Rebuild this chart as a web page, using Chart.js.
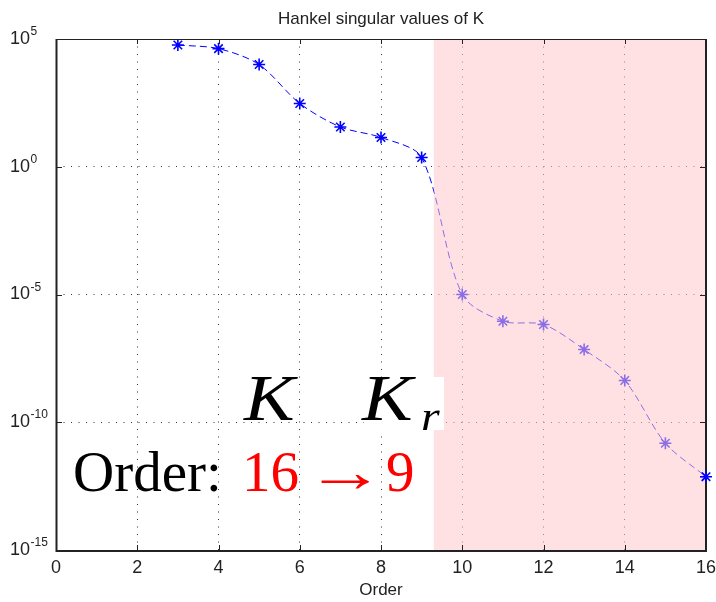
<!DOCTYPE html>
<html>
<head>
<meta charset="utf-8">
<title>Hankel singular values of K</title>
<script src="https://cdn.jsdelivr.net/npm/chart.js@4.4.1/dist/chart.umd.min.js"></script>
<style>
  html, body { margin: 0; padding: 0; background: #fff; }
  #wrap { width: 716px; height: 602px; }
</style>
</head>
<body>
<div id="wrap"><canvas id="hsv-chart" width="716" height="602"></canvas></div>
<script>
(function () {
    "use strict";

    // Hankel singular values of the controller K, by state order
    const orders = [3, 4, 5, 6, 7, 8, 9, 10, 11, 12, 13, 14, 15, 16];
    const hankelValues = [5.8e4, 4.2e4, 1.0e4, 3.0e2, 36, 14, 2.3,
                          1.0e-5, 9.0e-7, 6.7e-7, 7.0e-8, 4.3e-9, 1.5e-11, 7.4e-13];
    const xTicks = [0, 2, 4, 6, 8, 10, 12, 14, 16];
    const yTickExps = [5, 0, -5, -10, -15];
    const cutOrder = 9.3;   // states to the right of this are truncated

    const sans = "'Liberation Sans', Arial, sans-serif";
    const serif = "'Liberation Serif', 'Times New Roman', serif";

    // draw text stretched sideways
    function wideText(ctx, text, x, y, sx) {
        ctx.save();
        ctx.translate(x, y);
        ctx.scale(sx, 1);
        ctx.fillText(text, 0, 0);
        ctx.restore();
    }

    // shaded truncated region, box, inward ticks, y labels and annotations
    const decorations = {
        id: "decorations",
        afterDatasetsDraw: function (chart) {
            const ctx = chart.ctx;
            const area = chart.chartArea;
            const xs = chart.scales.x;
            const ys = chart.scales.y;

            ctx.save();
            const cx = xs.getPixelForValue(cutOrder);
            ctx.fillStyle = "rgba(255, 200, 205, 0.55)";
            ctx.fillRect(cx, area.top, area.right - cx, area.bottom - area.top);

            // axes box
            ctx.strokeStyle = "#222";
            ctx.lineWidth = 1;
            ctx.strokeRect(area.left + 0.5, area.top + 0.5, area.right - area.left - 1, area.bottom - area.top);
            ctx.lineWidth = 2;
            ctx.beginPath();
            ctx.moveTo(area.left + 0.5, area.top);
            ctx.lineTo(area.left + 0.5, area.bottom + 1);
            ctx.lineTo(area.right, area.bottom + 1);
            ctx.lineTo(area.right, area.top);
            ctx.stroke();

            // inward tick marks
            ctx.lineWidth = 1;
            ctx.beginPath();
            xTicks.forEach(function (t) {
                const px = Math.round(xs.getPixelForValue(t)) + 0.5;
                ctx.moveTo(px, area.top); ctx.lineTo(px, area.top + 5);
                ctx.moveTo(px, area.bottom); ctx.lineTo(px, area.bottom - 5);
            });
            yTickExps.forEach(function (e) {
                const py = Math.round(ys.getPixelForValue(Math.pow(10, e))) + 0.5;
                ctx.moveTo(area.left, py); ctx.lineTo(area.left + 6, py);
                ctx.moveTo(area.right, py); ctx.lineTo(area.right - 6, py);
            });
            ctx.stroke();

            // last point sits on the box edge, redraw it on top
            const meta = chart.getDatasetMeta(0);
            meta.data[meta.data.length - 1].draw(ctx, area);

            // y tick labels as 10 with raised exponent
            ctx.fillStyle = "#222";
            ctx.textBaseline = "middle";
            ctx.textAlign = "left";
            yTickExps.forEach(function (e) {
                const py = ys.getPixelForValue(Math.pow(10, e));
                ctx.font = "18px " + sans;
                ctx.fillText("10", 10, py);
                const w = ctx.measureText("10").width;
                ctx.font = "12px " + sans;
                ctx.textBaseline = "alphabetic";
                ctx.fillText(String(e), 10 + w + 0.5, py - 4);
                ctx.textBaseline = "middle";
            });

            // title
            ctx.textAlign = "center";
            ctx.textBaseline = "alphabetic";
            ctx.font = "17px " + sans;
            ctx.fillText("Hankel singular values of K", (area.left + area.right) / 2, 24);

            // K and K_r
            ctx.textAlign = "left";
            ctx.fillStyle = "#000";
            ctx.font = "italic 66px " + serif;
            wideText(ctx, "K", 244, 420, 1.15);
            ctx.fillStyle = "#fff";
            ctx.fillRect(364, 377, 80, 53);
            ctx.fillStyle = "#000";
            wideText(ctx, "K", 362, 420, 1.15);
            ctx.font = "italic 40px " + serif;
            wideText(ctx, "r", 421, 430, 1.2);

            // order reduction
            ctx.font = "57px " + serif;
            ctx.fillText("Order:", 73, 491);
            ctx.fillStyle = "#ff0000";
            ctx.fillText("16", 242, 491);
            wideText(ctx, "\u2192", 305, 491, 1.4);
            ctx.fillText("9", 386, 491);
            ctx.restore();
        }
    };

    const ctx = document.getElementById("hsv-chart").getContext("2d");
    const hsvChart = new Chart(ctx, {
        type: "line",
        data: {
            datasets: [{
                data: orders.map(function (o, i) { return { x: o, y: hankelValues[i] }; }),
                borderColor: "#0000ff",
                backgroundColor: "#0000ff",
                borderWidth: 1,
                borderDash: [7, 4],
                tension: 0.3,
                pointStyle: "star",
                pointRadius: 6,
                pointBorderWidth: 1.6,
                pointBorderColor: "#0000ff",
                fill: false
            }]
        },
        options: {
            responsive: false,
            animation: false,
            devicePixelRatio: 1,
            layout: { padding: { top: 39, right: 10, left: 0, bottom: 0 } },
            plugins: {
                legend: { display: false },
                title: { display: false },
                tooltip: { enabled: false }
            },
            scales: {
                x: {
                    type: "linear",
                    min: 0,
                    max: 16,
                    afterFit: function (s) { s.height = 52; s.paddingLeft = 0; s.paddingRight = 0; },
                    afterBuildTicks: function (s) { s.ticks = xTicks.map(function (v) { return { value: v }; }); },
                    grid: { color: "#333", lineWidth: 1, drawTicks: false },
                    border: { display: false, dash: [1, 6.5] },
                    ticks: { color: "#222", font: { size: 18, family: sans }, padding: 7, maxRotation: 0 },
                    title: { display: true, text: "Order", color: "#222", font: { size: 17, family: sans }, padding: { top: 0, bottom: 1 } }
                },
                y: {
                    type: "logarithmic",
                    min: 1e-15,
                    max: 1e5,
                    afterFit: function (s) { s.width = 56; s.paddingTop = 0; s.paddingBottom = 0; },
                    afterBuildTicks: function (s) { s.ticks = yTickExps.map(function (e) { return { value: Math.pow(10, e) }; }); },
                    grid: { color: "#333", lineWidth: 1, drawTicks: false },
                    border: { display: false, dash: [1, 6.5] },
                    ticks: { display: false }
                }
            }
        },
        plugins: [decorations]
    });
})();
</script>
</body>
</html>
